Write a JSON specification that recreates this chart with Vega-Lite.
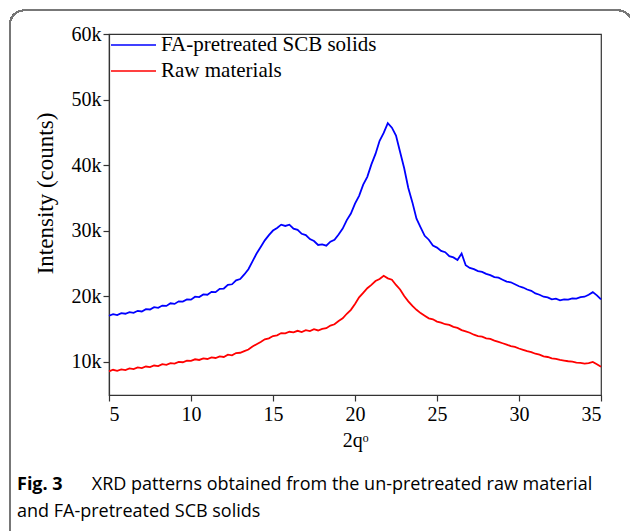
{
  "$schema": "https://vega.github.io/schema/vega-lite/v6.json",
  "width": 492,
  "height": 361,
  "autosize": {"type": "none"},
  "padding": {"left": 109, "top": 34, "right": 29, "bottom": 136},
  "background": "white",
  "config": {
    "view": {"stroke": "#333", "strokeWidth": 1.2},
    "axis": {"grid": false, "domainColor": "#333", "tickColor": "#333", "labelColor": "black", "titleColor": "black", "labelFont": "Liberation Serif", "titleFont": "Liberation Serif", "labelFontSize": 20, "titleFontSize": 21, "titleFontWeight": "normal", "tickSize": 6, "domainWidth": 1.2, "tickWidth": 1.2},
    "legend": {"labelFont": "Liberation Serif", "labelFontSize": 21, "labelColor": "black", "labelLimit": 400}
  },
  "title": {
    "text": "Fig. 3",
    "subtitle": ["\u200b\u00a0\u00a0\u00a0\u00a0\u00a0\u00a0\u00a0\u00a0\u00a0\u00a0\u00a0\u00a0\u00a0\u00a0\u00a0\u00a0XRD patterns obtained from the un-pretreated raw material", "and FA-pretreated SCB solids"],
    "orient": "bottom",
    "anchor": "start",
    "frame": "group",
    "dx": -92,
    "offset": -83,
    "font": "Open Sans",
    "fontSize": 18,
    "fontWeight": "bold",
    "color": "black",
    "subtitleFont": "Open Sans",
    "subtitleFontSize": 18,
    "subtitleColor": "black",
    "subtitleLineHeight": 27,
    "subtitlePadding": -18
  },
  "data": {"values": [
    {"x":5.00,"FA":17000,"Raw":8500},{"x":5.25,"FA":17250,"Raw":8750},{"x":5.50,"FA":17100,"Raw":8600},{"x":5.75,"FA":17400,"Raw":8800},
    {"x":6.00,"FA":17300,"Raw":8700},{"x":6.25,"FA":17550,"Raw":8950},{"x":6.50,"FA":17450,"Raw":8850},{"x":6.75,"FA":17750,"Raw":9100},
    {"x":7.00,"FA":17650,"Raw":9000},{"x":7.25,"FA":18000,"Raw":9250},{"x":7.50,"FA":17950,"Raw":9150},{"x":7.75,"FA":18300,"Raw":9400},
    {"x":8.00,"FA":18200,"Raw":9300},{"x":8.25,"FA":18550,"Raw":9600},{"x":8.50,"FA":18500,"Raw":9500},{"x":8.75,"FA":18900,"Raw":9750},
    {"x":9.00,"FA":18800,"Raw":9700},{"x":9.25,"FA":19200,"Raw":9950},{"x":9.50,"FA":19150,"Raw":9900},{"x":9.75,"FA":19500,"Raw":10150},
    {"x":10.00,"FA":19450,"Raw":10100},{"x":10.25,"FA":19900,"Raw":10350},{"x":10.50,"FA":19850,"Raw":10250},{"x":10.75,"FA":20250,"Raw":10500},
    {"x":11.00,"FA":20200,"Raw":10400},{"x":11.25,"FA":20650,"Raw":10650},{"x":11.50,"FA":20600,"Raw":10550},{"x":11.75,"FA":21100,"Raw":10800},
    {"x":12.00,"FA":21150,"Raw":10700},{"x":12.25,"FA":21700,"Raw":11050},{"x":12.50,"FA":21800,"Raw":10950},{"x":12.75,"FA":22400,"Raw":11300},
    {"x":13.00,"FA":22600,"Raw":11350},{"x":13.25,"FA":23300,"Raw":11600},{"x":13.50,"FA":24100,"Raw":11850},{"x":13.75,"FA":25300,"Raw":12300},
    {"x":14.00,"FA":26500,"Raw":12650},{"x":14.25,"FA":27500,"Raw":13000},{"x":14.50,"FA":28500,"Raw":13400},{"x":14.75,"FA":29300,"Raw":13550},
    {"x":15.00,"FA":30000,"Raw":13900},{"x":15.25,"FA":30400,"Raw":14000},{"x":15.50,"FA":30900,"Raw":14350},{"x":15.75,"FA":30700,"Raw":14300},
    {"x":16.00,"FA":30900,"Raw":14550},{"x":16.25,"FA":30300,"Raw":14450},{"x":16.50,"FA":30100,"Raw":14700},{"x":16.75,"FA":29500,"Raw":14500},
    {"x":17.00,"FA":29300,"Raw":14800},{"x":17.25,"FA":28700,"Raw":14650},{"x":17.50,"FA":28400,"Raw":14950},{"x":17.75,"FA":27800,"Raw":14750},
    {"x":18.00,"FA":27900,"Raw":15000},{"x":18.25,"FA":27700,"Raw":15100},{"x":18.50,"FA":28300,"Raw":15500},{"x":18.75,"FA":28600,"Raw":15700},
    {"x":19.00,"FA":29400,"Raw":16200},{"x":19.25,"FA":30300,"Raw":16600},{"x":19.50,"FA":31600,"Raw":17300},{"x":19.75,"FA":32600,"Raw":17900},
    {"x":20.00,"FA":34100,"Raw":18800},{"x":20.25,"FA":35300,"Raw":19800},{"x":20.50,"FA":37000,"Raw":20500},{"x":20.75,"FA":38200,"Raw":21200},
    {"x":21.00,"FA":40100,"Raw":21700},{"x":21.25,"FA":41700,"Raw":22300},{"x":21.50,"FA":43700,"Raw":22600},{"x":21.75,"FA":44900,"Raw":23100},
    {"x":22.00,"FA":46400,"Raw":22700},{"x":22.25,"FA":45700,"Raw":22500},{"x":22.50,"FA":44500,"Raw":21700},{"x":22.75,"FA":42000,"Raw":21000},
    {"x":23.00,"FA":39500,"Raw":20000},{"x":23.25,"FA":36500,"Raw":19200},{"x":23.50,"FA":34300,"Raw":18500},{"x":23.75,"FA":31800,"Raw":17900},
    {"x":24.00,"FA":30500,"Raw":17400},{"x":24.25,"FA":29200,"Raw":17000},{"x":24.50,"FA":28600,"Raw":16600},{"x":24.75,"FA":27700,"Raw":16450},
    {"x":25.00,"FA":27400,"Raw":16100},{"x":25.25,"FA":26900,"Raw":15950},{"x":25.50,"FA":26700,"Raw":15700},{"x":25.75,"FA":26100,"Raw":15600},
    {"x":26.00,"FA":25900,"Raw":15300},{"x":26.25,"FA":25500,"Raw":15150},{"x":26.50,"FA":26500,"Raw":14800},{"x":26.75,"FA":24700,"Raw":14600},
    {"x":27.00,"FA":24300,"Raw":14400},{"x":27.25,"FA":24100,"Raw":14100},{"x":27.50,"FA":23800,"Raw":13900},{"x":27.75,"FA":23700,"Raw":13800},
    {"x":28.00,"FA":23400,"Raw":13550},{"x":28.25,"FA":23200,"Raw":13450},{"x":28.50,"FA":22900,"Raw":13200},{"x":28.75,"FA":22800,"Raw":13000},
    {"x":29.00,"FA":22500,"Raw":12800},{"x":29.25,"FA":22200,"Raw":12600},{"x":29.50,"FA":22100,"Raw":12350},{"x":29.75,"FA":21800,"Raw":12250},
    {"x":30.00,"FA":21500,"Raw":12000},{"x":30.25,"FA":21300,"Raw":11800},{"x":30.50,"FA":21000,"Raw":11600},{"x":30.75,"FA":20800,"Raw":11450},
    {"x":31.00,"FA":20400,"Raw":11200},{"x":31.25,"FA":20200,"Raw":11050},{"x":31.50,"FA":19900,"Raw":10800},{"x":31.75,"FA":19800,"Raw":10700},
    {"x":32.00,"FA":19500,"Raw":10500},{"x":32.25,"FA":19600,"Raw":10400},{"x":32.50,"FA":19350,"Raw":10250},{"x":32.75,"FA":19500,"Raw":10150},
    {"x":33.00,"FA":19450,"Raw":10050},{"x":33.25,"FA":19650,"Raw":10000},{"x":33.50,"FA":19600,"Raw":9850},{"x":33.75,"FA":19850,"Raw":9800},
    {"x":34.00,"FA":19900,"Raw":9700},{"x":34.25,"FA":20200,"Raw":9750},{"x":34.50,"FA":20600,"Raw":9950},{"x":34.75,"FA":20100,"Raw":9600},
    {"x":35.00,"FA":19500,"Raw":9200}
  ]},
  "layer": [
    {
      "transform": [{"fold": ["FA", "Raw"], "as": ["series", "value"]}],
      "mark": {"type": "line", "strokeWidth": 1.8, "interpolate": "linear"},
      "encoding": {
        "x": {"field": "x", "type": "quantitative", "scale": {"domain": [5, 35], "nice": false}, "axis": {"values": [5, 10, 15, 20, 25, 30, 35], "title": "2qᵒ", "titleFontSize": 20, "titlePadding": 6, "labelPadding": 3}},
        "y": {"field": "value", "type": "quantitative", "scale": {"domain": [4900, 60000], "nice": false, "zero": false}, "axis": {"values": [10000, 20000, 30000, 40000, 50000, 60000], "format": "~s", "title": "Intensity (counts)", "titleFontSize": 23, "titlePadding": 14, "titleY": 159, "labelPadding": 2}},
        "color": {"field": "series", "type": "nominal", "scale": {"domain": ["FA", "Raw"], "range": ["#0000ff", "#ff0000"]},
          "legend": {"title": null, "orient": "none", "legendX": 8.5, "legendY": -5, "symbolType": "M-1.5,0H1.5", "symbolSize": 900, "symbolStrokeWidth": 1.4, "symbolFillColor": "transparent", "labelFont": "Liberation Serif", "labelFontSize": 21, "labelColor": "black", "labelOffset": 11.5, "labelLimit": 400, "rowPadding": -1,
            "labelExpr": "datum.label == 'FA' ? 'FA-pretreated SCB solids' : 'Raw materials'"}}
      }
    },
    {
      "mark": {"type": "rect", "fill": null, "fillOpacity": 0, "stroke": "#777", "strokeWidth": 1.2, "cornerRadius": 14},
      "encoding": {
        "x": {"datum": -1.04},
        "x2": {"datum": 36.9},
        "y": {"datum": 63600},
        "y2": {"datum": -20000}
      }
    }
  ]
}
